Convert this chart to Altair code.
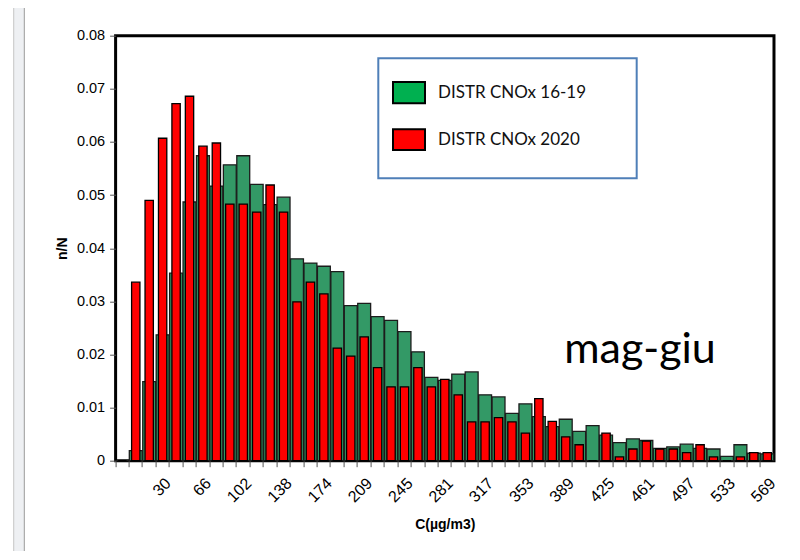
import altair as alt
import pandas as pd

# ---- data ----
bins = [-6, 6, 18, 30, 42, 54, 66, 78, 90, 102, 114, 126, 138, 150, 162, 174, 186, 198,
        209, 221, 233, 245, 257, 269, 281, 293, 305, 317, 329, 341, 353, 365, 377, 389,
        401, 413, 425, 437, 449, 461, 473, 485, 497, 509, 521, 533, 545, 557, 569]
green = [0, 0.0019, 0.0149, 0.0237, 0.0353, 0.0487, 0.0574, 0.0517, 0.0557, 0.0574,
         0.0520, 0.0482, 0.0496, 0.0380, 0.0372, 0.0366, 0.0356, 0.0292, 0.0296, 0.0271,
         0.0264, 0.0243, 0.0205, 0.0157, 0.0151, 0.0163, 0.0167, 0.0124, 0.0120, 0.0089,
         0.0107, 0.0083, 0.0064, 0.0078, 0.0055, 0.0066, 0.0048, 0.0034, 0.0041, 0.0038,
         0.0023, 0.0026, 0.0031, 0.0023, 0.0022, 0.0008, 0.0030, 0.0014, 0.0013]
red = [0, 0.0336, 0.0490, 0.0607, 0.0672, 0.0686, 0.0592, 0.0598, 0.0483, 0.0483,
       0.0468, 0.0519, 0.0468, 0.0299, 0.0336, 0.0314, 0.0212, 0.0197, 0.0233, 0.0175,
       0.0139, 0.0139, 0.0175, 0.0139, 0.0153, 0.0124, 0.0073, 0.0073, 0.0081, 0.0073,
       0.0052, 0.0117, 0.0074, 0.0045, 0.0030, 0, 0.0052, 0.0007, 0.0022, 0.0037,
       0.0022, 0.0022, 0.0015, 0.0030, 0.0007, 0, 0.0007, 0.0015, 0.0015]
series_names = ["DISTR CNOx 16-19", "DISTR CNOx 2020"]
legend_colors = ["#00b050", "#ff0000"]
bar_colors = ["#339966", "#ff0000"]
y_ticks = [0, 0.01, 0.02, 0.03, 0.04, 0.05, 0.06, 0.07, 0.08]
annotation = ["mag-giu"]
x_title = "C(µg/m3)"
y_title = "n/N"

order = [str(b) for b in bins]
shown = order[3::3]
df = pd.DataFrame({"bin": order, "green": green, "red": red})

W, H = 658.4, 425
AX_FONT = "Liberation Sans"

xscale = alt.Scale(domain=order, paddingInner=0, paddingOuter=0)
yscale = alt.Scale(domain=[0, 0.08], nice=False)
yaxis = alt.Axis(values=y_ticks, format="~g", title=y_title, tickSize=6,
                 labelPadding=5, titlePadding=7, labelFontSize=14.5)

green_layer = alt.Chart(df).mark_bar(
    color=bar_colors[0], stroke="#1c1c1c", strokeWidth=1.3, width={"band": 0.96}
).encode(
    x=alt.X("bin:N", sort=order, scale=xscale,
            axis=alt.Axis(values=shown, labelAngle=-45, labelAlign="right",
                          labelBaseline="top", ticks=False, labelPadding=14,
                          labelFontSize=16, title=x_title, titlePadding=13,
                          orient="bottom")),
    y=alt.Y("green:Q", scale=yscale, axis=yaxis),
)

red_layer = alt.Chart(df).mark_bar(
    color=bar_colors[1], stroke="black", strokeWidth=1.3, width={"band": 0.62}
).encode(
    x=alt.X("bin:N", sort=order, scale=xscale,
            axis=alt.Axis(values=order, labels=False, ticks=True, tickSize=6,
                          bandPosition=0, title=None, orient="bottom")),
    y=alt.Y("red:Q", scale=yscale, axis=yaxis),
)

one = pd.DataFrame({"k": [0]})
leg_df = pd.DataFrame({"name": series_names})

legend_box = alt.Chart(one).mark_rect(fill="white", stroke="#4f7fb8", strokeWidth=2).encode(
    x=alt.value(262.7), x2=alt.value(521.1), y=alt.value(22.6), y2=alt.value(142.6))

leg_layers = []
sym_y = [(46.3, 67.6), (93.6, 114.3)]
for i in range(2):
    leg_layers.append(
        alt.Chart(leg_df.iloc[[i]]).mark_rect(fill=legend_colors[i], stroke="black", strokeWidth=2).encode(
            x=alt.value(277.4), x2=alt.value(309.4), y=alt.value(sym_y[i][0]), y2=alt.value(sym_y[i][1]))
    )
    leg_layers.append(
        alt.Chart(leg_df.iloc[[i]]).mark_text(align="left", baseline="middle", font="Lato",
                                              fontSize=17, color="#111").encode(
            x=alt.value(322.4), y=alt.value((sym_y[i][0] + sym_y[i][1]) / 2), text="name:N")
    )

ann = alt.Chart(pd.DataFrame({"t": annotation})).mark_text(
    align="center", baseline="alphabetic", font="Lato", fontSize=43, color="black"
).encode(x=alt.value(524.4), y=alt.value(327.6), text="t:N")

# page frame decoration at the far left
band = alt.Chart(one).mark_rect(fill="#eef0f3").encode(
    x=alt.value(-101.6), x2=alt.value(-91.3), y=alt.value(-27.7), y2=alt.value(520))
line1 = alt.Chart(one).mark_rule(color="#c4c4c4", strokeWidth=1).encode(
    x=alt.value(-101.9), y=alt.value(-27.7), y2=alt.value(520))
line2 = alt.Chart(one).mark_rule(color="#9a9a9a", strokeWidth=1).encode(
    x=alt.value(-91.3), y=alt.value(-27.7), y2=alt.value(520))

chart = alt.layer(
    band, line1, line2, green_layer, red_layer, legend_box, *leg_layers, ann
).resolve_axis(x="independent").properties(
    width=W, height=H,
    autosize=alt.AutoSizeParams(type="none"),
    padding={"left": 107.6, "top": 27.7, "right": 10, "bottom": 90},
).configure_view(
    stroke="black", strokeWidth=3
).configure_axis(
    domain=False, grid=False, labelFont=AX_FONT, labelFontSize=14, labelColor="black",
    titleFont=AX_FONT, titleFontSize=14, titleFontWeight="bold", titleColor="black",
    tickColor="#555", tickWidth=1
)

chart.save("out.html", embed_options={"renderer": "svg", "actions": False})
